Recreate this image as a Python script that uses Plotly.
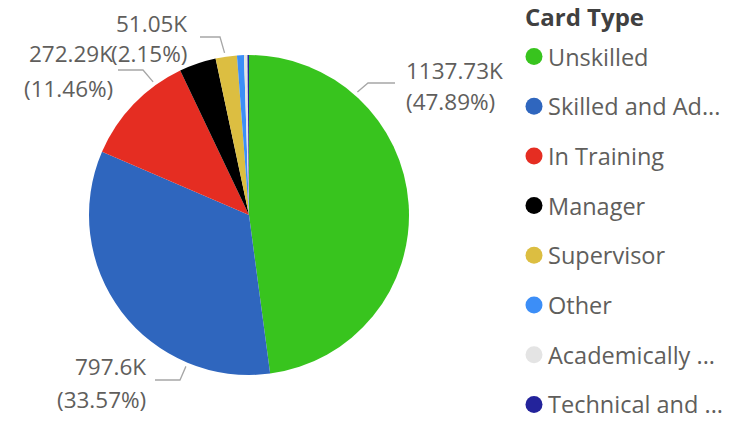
import math
import plotly.graph_objects as go

# ---- data ----
categories = ["Unskilled", "Skilled and Ad...", "In Training", "Manager",
              "Supervisor", "Other", "Academically ...", "Technical and ..."]
values_k = [1137.73, 797.6, 272.29, 88.5, 51.05, 16.6, 8.3, 3.6]
colors = ["#38C41E", "#2F66BE", "#E52D22", "#000000",
          "#DCBE41", "#3C8EF7", "#E4E4E4", "#23239B"]
labelled = ["Unskilled", "Skilled and Ad...", "In Training", "Supervisor"]
legend_title = "Card Type"

W, H = 735, 421
CX, CY, R = 249, 215, 160  # pie centre / radius in pixels

# label layout (style): angle fraction inside slice, elbow, line end, text anchor
label_style = {
    "Unskilled": dict(frac=0.24, elbow=(368, 83), end=(395, 83),
                      tx=404, ty=(70, 101), align="left"),
    "Skilled and Ad...": dict(frac=0.25, elbow=(180, 380), end=(155, 380),
                              tx=148, ty=(366, 399), align="right"),
    "In Training": dict(frac=0.75, elbow=(143, 70), end=(118, 70),
                        tx=115, ty=(54, 88), align="right"),
    "Supervisor": dict(frac=0.45, elbow=(220, 37), end=(200, 37),
                       tx=189, ty=(24, 54), align="right"),
}

# legend layout (style)
LEG_TITLE_X, LEG_TITLE_Y = 523, 16
LEG_SYM_X, LEG_TEXT_X = 534, 547
LEG_Y0, LEG_DY, LEG_R = 56.5, 49.7, 8.5

LABEL_COLOR = "#605E5C"
FONT = "Open Sans"


def px(x):
    return x / W


def py(y):
    return 1 - y / H


fig = go.Figure()
fig.add_trace(go.Pie(
    labels=categories, values=values_k, sort=False, direction="clockwise",
    rotation=0, marker=dict(colors=colors, line=dict(width=0)),
    textinfo="none", hoverinfo="label+value+percent", showlegend=False,
    domain=dict(x=[px(CX - R), px(CX + R)], y=[py(CY + R), py(CY - R)]),
))

total = sum(values_k)
cum = 0.0
annotations = []
shapes = []
for c, v in zip(categories, values_k):
    start = cum / total * 360
    cum += v
    end_ang = cum / total * 360
    if c not in labelled:
        continue
    st = label_style[c]
    theta = math.radians(start + st["frac"] * (end_ang - start))
    sx = CX + (R + 4) * math.sin(theta)
    sy = CY - (R + 4) * math.cos(theta)
    ex, ey = st["elbow"]
    lx, ly = st["end"]
    path = f"M {px(sx)} {py(sy)} L {px(ex)} {py(ey)} L {px(lx)} {py(ly)}"
    shapes.append(dict(type="path", xref="paper", yref="paper", path=path,
                       line=dict(color="#A6A6A6", width=1.3)))
    pct = v / total * 100
    val_txt = f"{v:g}K"
    pct_txt = f"({pct:.2f}%)"
    for txt, ty in zip([val_txt, pct_txt], st["ty"]):
        annotations.append(dict(
            x=px(st["tx"]), y=py(ty), xref="paper", yref="paper",
            text=txt, showarrow=False,
            xanchor="left" if st["align"] == "left" else "right",
            yanchor="middle",
            font=dict(family=FONT, size=22.5, color=LABEL_COLOR),
        ))

# legend (drawn as shapes + text so that spacing matches)
annotations.append(dict(
    x=px(LEG_TITLE_X), y=py(LEG_TITLE_Y), xref="paper", yref="paper",
    text=f"<b>{legend_title}</b>", showarrow=False, xanchor="left",
    yanchor="middle", font=dict(family=FONT, size=24, color="#404040"),
))
for i, (c, col) in enumerate(zip(categories, colors)):
    yc = LEG_Y0 + i * LEG_DY
    shapes.append(dict(
        type="circle", xref="paper", yref="paper",
        x0=px(LEG_SYM_X - LEG_R), x1=px(LEG_SYM_X + LEG_R),
        y0=py(yc + LEG_R), y1=py(yc - LEG_R),
        fillcolor=col, line=dict(width=0),
    ))
    annotations.append(dict(
        x=px(LEG_TEXT_X), y=py(yc), xref="paper", yref="paper",
        text=c, showarrow=False, xanchor="left", yanchor="middle",
        borderpad=0,
        font=dict(family=FONT, size=23.5, color=LABEL_COLOR),
    ))

fig.update_layout(
    width=W, height=H,
    margin=dict(l=0, r=0, t=0, b=0),
    paper_bgcolor="white", plot_bgcolor="white",
    annotations=annotations, shapes=shapes,
    showlegend=False,
)

fig.write_html("out.html",
               config={"displayModeBar": False},
               post_script="document.body.style.margin='0';")
